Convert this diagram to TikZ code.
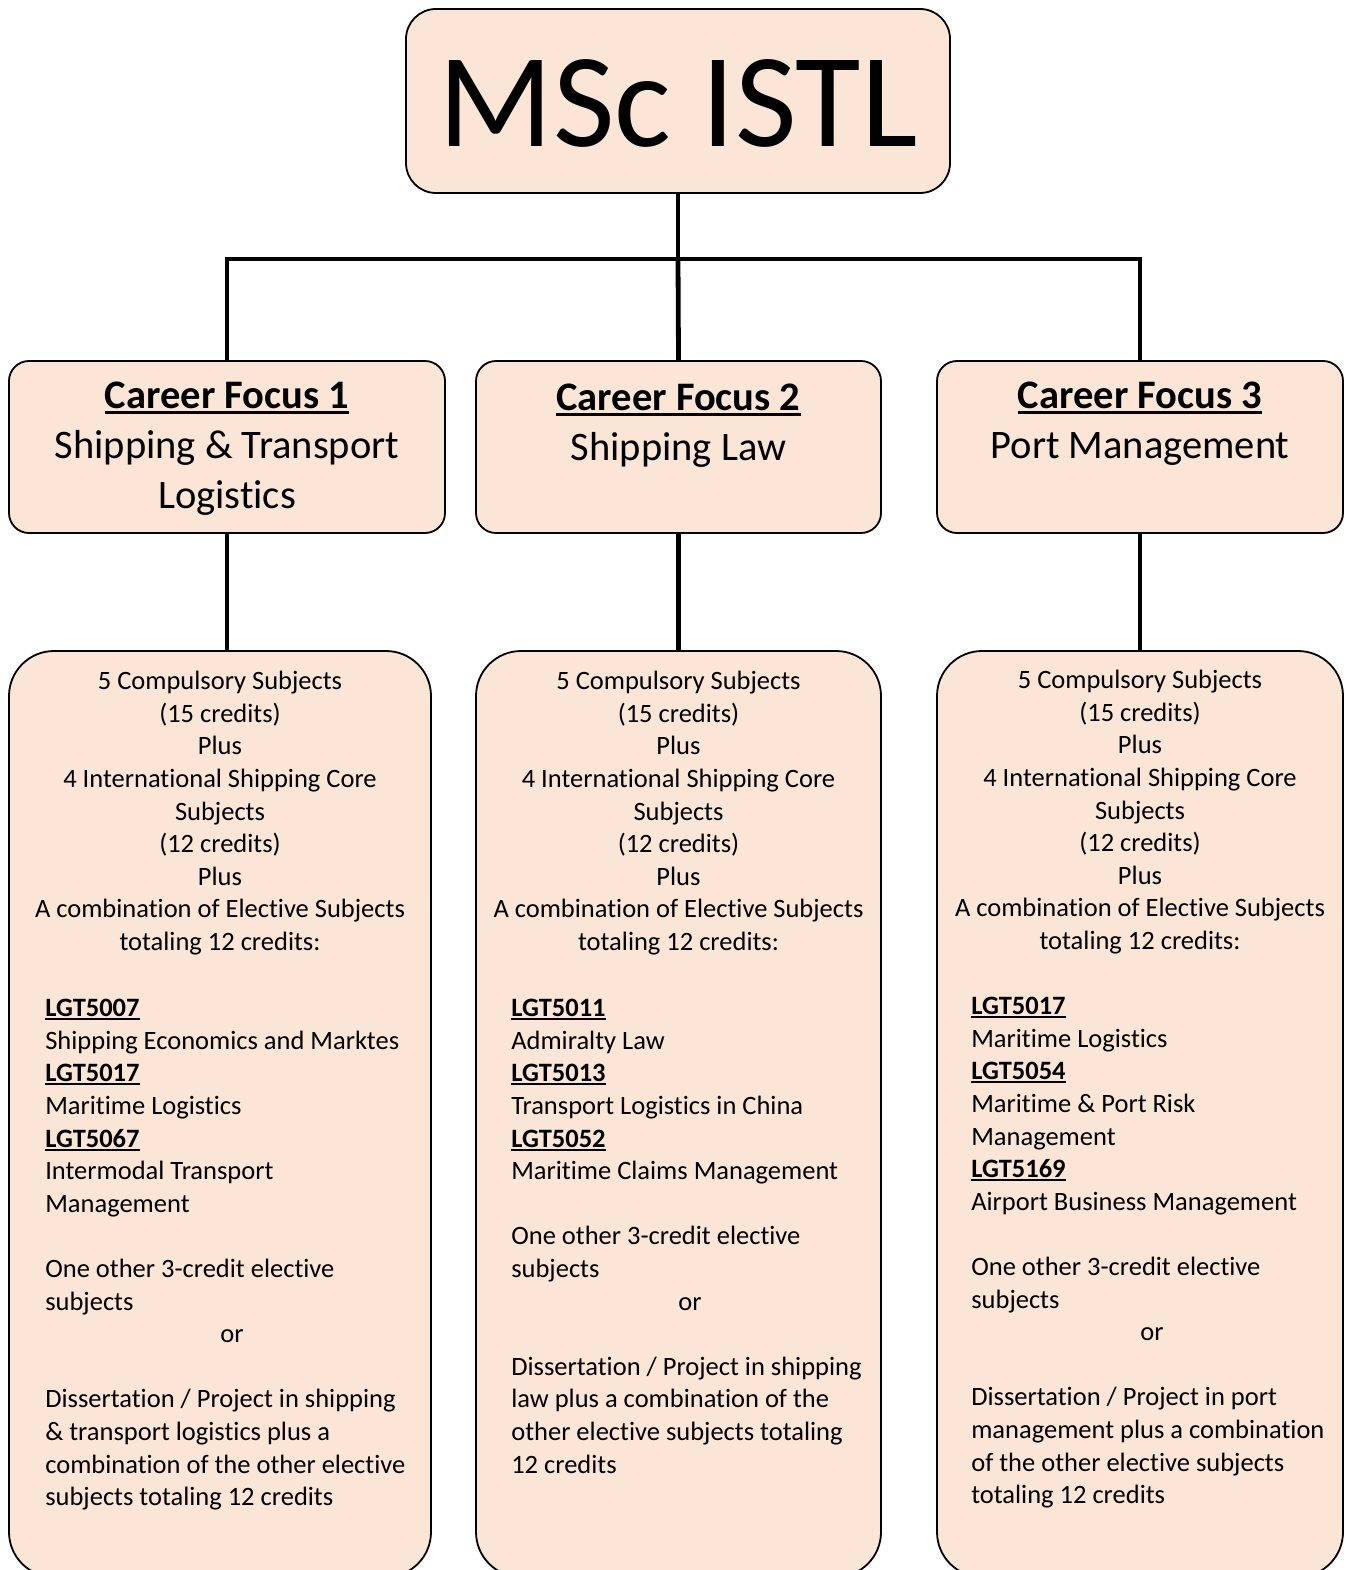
\documentclass[tikz,border=0pt]{standalone}
\usepackage{fontspec}
\setmainfont{Carlito}[Ligatures={NoCommon}]
\usetikzlibrary{positioning}
\definecolor{peach}{HTML}{FBE5D6}
\newcommand{\undl}[1]{\setbox0=\hbox{#1}\rlap{\rule[-0.13em]{\wd0}{0.075em}}\box0}

\begin{document}
\begin{tikzpicture}[x=1pt, y=-1pt,
    box/.style={draw, line width=1.8pt, fill=peach, inner sep=0pt},
    link/.style={line width=4.8pt},
    headtext/.style={align=center, inner sep=0pt, font=\fontsize{40.5}{50}\selectfont},
    coretext/.style={align=center, inner sep=0pt, font=\fontsize{26.5}{32.6}\selectfont},
    electext/.style={align=left, inner sep=0pt, font=\fontsize{26.5}{32.6}\selectfont}]
    \useasboundingbox (0,0) rectangle (1348,1570);
    \clip (0,0) rectangle (1348,1570);

    % programme
    \node[box, rounded corners=30pt, minimum width=544pt, minimum height=184pt,
          text height=92pt, font=\fontsize{134}{160}\selectfont] (istl) at (678,101) {MSc ISTL};

    % career focus boxes
    \node[box, rounded corners=20pt, minimum width=436pt, minimum height=172pt] (cf1) at (227,447) {};
    \node[box, rounded corners=20pt, minimum width=405pt, minimum height=172pt] (cf2) at (678.5,447) {};
    \node[box, rounded corners=20pt, minimum width=406pt, minimum height=172pt] (cf3) at (1140,447) {};
    \node[headtext, below=22pt of cf1.north] (cf1txt) {\undl{\textbf{Career Focus 1}}\\Shipping \& Transport\\Logistics};
    \node[headtext, below=24pt of cf2.north] (cf2txt) {\undl{\textbf{Career Focus 2}}\\Shipping Law};
    \node[headtext, below=22pt of cf3.north] (cf3txt) {\undl{\textbf{Career Focus 3}}\\Port Management};

    % subject boxes
    \node[box, rounded corners=45pt, minimum width=422pt, minimum height=926pt] (sb1) at (220,1114) {};
    \node[box, rounded corners=45pt, minimum width=405pt, minimum height=926pt] (sb2) at (678.5,1114) {};
    \node[box, rounded corners=45pt, minimum width=406pt, minimum height=926pt] (sb3) at (1140,1114) {};

    \foreach \i/\d in {1/21pt,2/21pt,3/20pt}
        \node[coretext, below=\d of sb\i.north] (core\i) {5 Compulsory Subjects\\(15 credits)\\Plus\\
            4 International Shipping Core\\Subjects\\(12 credits)\\Plus\\
            A combination of Elective Subjects\\totaling 12 credits:};

    \node[electext, below right=349pt and 37pt of sb1.north west] (elec1) {\undl{\textbf{LGT5007}}\\
        Shipping Economics and Marktes\\\undl{\textbf{LGT5017}}\\Maritime Logistics\\
        \undl{\textbf{LGT5067}}\\Intermodal Transport\\Management\\[32.6pt]
        One other 3-credit elective\\subjects\\\hspace*{175pt}or\\[32.6pt]
        Dissertation / Project in shipping\\\& transport logistics plus a\\
        combination of the other elective\\subjects totaling 12 credits};
    \node[electext, below right=349pt and 36pt of sb2.north west] (elec2) {\undl{\textbf{LGT5011}}\\
        Admiralty Law\\\undl{\textbf{LGT5013}}\\Transport Logistics in China\\
        \undl{\textbf{LGT5052}}\\Maritime Claims Management\\[32.6pt]
        One other 3-credit elective\\subjects\\\hspace*{167pt}or\\[32.6pt]
        Dissertation / Project in shipping\\law plus a combination of the\\
        other elective subjects totaling\\12 credits};
    \node[electext, below right=347pt and 35pt of sb3.north west] (elec3) {\undl{\textbf{LGT5017}}\\
        Maritime Logistics\\\undl{\textbf{LGT5054}}\\Maritime \& Port Risk\\Management\\
        \undl{\textbf{LGT5169}}\\Airport Business Management\\[32.6pt]
        One other 3-credit elective\\subjects\\\hspace*{169pt}or\\[32.6pt]
        Dissertation / Project in port\\management plus a combination\\
        of the other elective subjects\\totaling 12 credits};

    % connectors
    \coordinate (hub) at (678,259);
    \draw[link] (istl.south) -- (hub);
    \draw[link] (cf1.north) |- (hub) -| (cf3.north);
    \draw[link] (hub) -- (cf2.north);
    \foreach \i in {1,2,3}
        \draw[link] (cf\i.south) -- (cf\i.south |- sb\i.north);
\end{tikzpicture}
\end{document}
